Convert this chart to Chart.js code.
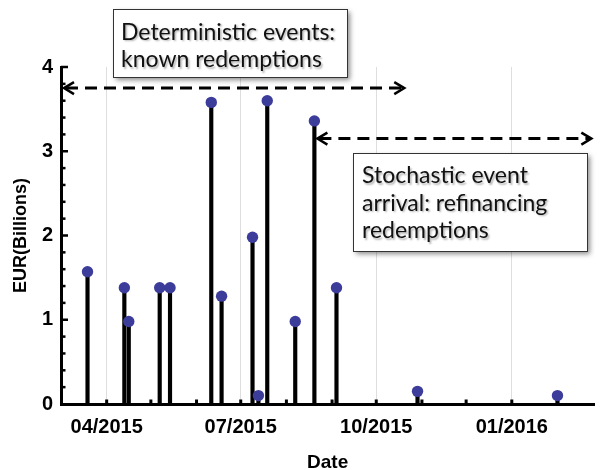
<!DOCTYPE html>
<html><head><meta charset="utf-8">
<script src="https://cdn.jsdelivr.net/npm/chart.js@4.4.1/dist/chart.umd.min.js"></script>
<style>html,body{margin:0;padding:0;background:#fff}canvas{display:block}</style>
</head><body>
<canvas id="c" width="600" height="470"></canvas>
<script>
// ---- data ----
const redemptionDates = ['2015-03-19','2015-04-13','2015-04-16','2015-05-07','2015-05-14','2015-06-11','2015-06-18','2015-07-09','2015-07-13','2015-07-19','2015-08-07','2015-08-20','2015-09-04','2015-10-29','2016-02-01'];
const redemptionAmounts = [1.57,1.38,0.98,1.38,1.38,3.58,1.28,1.98,0.10,3.60,0.98,3.36,1.38,0.15,0.10];
const monthTickDates = ['2015-03-01','2015-04-01','2015-05-01','2015-06-01','2015-07-01','2015-08-01','2015-09-01','2015-10-01','2015-11-01','2015-12-01','2016-01-01','2016-02-01'];
const labelledTickDates = ['2015-04-01','2015-07-01','2015-10-01','2016-01-01'];
const labelledTickText = ['04/2015','07/2015','10/2015','01/2016'];
const yMajorTicks = [0,1,2,3,4];
const yMinorStep = 0.2;
const xRange = ['2015-03-01','2016-02-26'];

// annotation layout (data units for arrows)
const arrows = [
  {from:'2015-03-01', to:'2015-10-20', y:3.75},
  {from:'2015-08-20', to:'2016-02-24', y:3.15}
];
const notes = [
  {x:113, y:9,   w:234, h:68, lines:['Deterministic events:','known redemptions'], tx:121, ty:39.5},
  {x:353, y:153, w:234, h:98, lines:['Stochastic event','arrival: refinancing','redemptions'], tx:362, ty:183}
];

const dayNum = s => { const [y,m,d] = s.split('-').map(Number); return Date.UTC(y,m-1,d)/86400000; };
const points = redemptionDates.map((d,i) => ({x: dayNum(d), y: redemptionAmounts[i]}));
const monthDays = monthTickDates.map(dayNum);
const labelledDays = labelledTickDates.map(dayNum);

const AXFONT = 'Liberation Sans, Arial, sans-serif';

const tickMarks = {
  id:'tickMarks',
  beforeDatasetsDraw(chart){
    const {ctx, scales:{x, y}, chartArea} = chart;
    ctx.save();
    ctx.fillStyle = '#000';
    monthDays.forEach(v => {
      const px = x.getPixelForValue(v);
      if (px < chartArea.left + 3) return;
      ctx.fillRect(px - 1.5, chartArea.bottom - 4.5, 3, 5);
    });
    const n = Math.round((yMajorTicks[yMajorTicks.length-1] - yMajorTicks[0]) / yMinorStep);
    for (let i = 1; i <= n; i++) {
      const v = yMajorTicks[0] + i * yMinorStep;
      const py = y.getPixelForValue(v);
      const major = Math.abs(v - Math.round(v)) < 1e-6;
      ctx.fillRect(chartArea.left, py - 1.25, major ? 7 : 4.5, 2.5);
    }
    ctx.restore();
  }
};

function drawArrow(ctx, x1, x2, yy){
  ctx.save();
  ctx.strokeStyle = '#000';
  ctx.lineWidth = 3;
  ctx.setLineDash([12,7]);
  ctx.beginPath(); ctx.moveTo(x1 + 2, yy); ctx.lineTo(x2 - 2, yy); ctx.stroke();
  ctx.setLineDash([]);
  ctx.lineWidth = 2.5;
  ctx.lineCap = 'butt';
  ctx.beginPath(); ctx.moveTo(x1 + 10, yy - 6); ctx.lineTo(x1, yy); ctx.lineTo(x1 + 10, yy + 6); ctx.stroke();
  ctx.beginPath(); ctx.moveTo(x2 - 10, yy - 6); ctx.lineTo(x2, yy); ctx.lineTo(x2 - 10, yy + 6); ctx.stroke();
  ctx.restore();
}

const annotations = {
  id:'annotations',
  afterDatasetsDraw(chart){
    const {ctx, scales:{x, y}} = chart;
    arrows.forEach(a => {
      drawArrow(ctx, x.getPixelForValue(dayNum(a.from)) + 3, x.getPixelForValue(dayNum(a.to)), y.getPixelForValue(a.y));
    });
    notes.forEach(n => {
      ctx.save();
      ctx.shadowColor = 'rgba(0,0,0,0.45)';
      ctx.shadowBlur = 5; ctx.shadowOffsetX = 3; ctx.shadowOffsetY = 3;
      ctx.fillStyle = '#fff';
      ctx.fillRect(n.x, n.y, n.w, n.h);
      ctx.restore();
      ctx.save();
      ctx.strokeStyle = '#333'; ctx.lineWidth = 1;
      ctx.strokeRect(n.x + 0.5, n.y + 0.5, n.w, n.h);
      ctx.font = '23px Lato, sans-serif';
      ctx.fillStyle = '#111';
      ctx.textBaseline = 'alphabetic';
      ctx.shadowColor = 'rgba(0,0,0,0.3)';
      ctx.shadowBlur = 2; ctx.shadowOffsetX = 1.5; ctx.shadowOffsetY = 1.5;
      n.lines.forEach((t, i) => ctx.fillText(t, n.tx, n.ty + i * 27.6));
      ctx.restore();
    });
  }
};

new Chart(document.getElementById('c'), {
  type: 'scatter',
  data: {
    datasets: [
      {type:'bar', data: points, backgroundColor:'#000', barThickness:3.5, grouped:false, order:1},
      {type:'scatter', data: points, pointRadius:5.7, pointHoverRadius:5.7, pointBackgroundColor:'#3c3c9b', pointBorderWidth:0, order:0}
    ]
  },
  options: {
    responsive:false, animation:false, devicePixelRatio:1,
    layout:{padding:{top:67, right:0, bottom:0, left:0}},
    plugins:{legend:{display:false}, tooltip:{enabled:false}},
    scales:{
      x:{
        type:'linear', offset:false,
        min: dayNum(xRange[0]), max: dayNum(xRange[1]),
        afterBuildTicks: s => { s.ticks = monthDays.map(v => ({value:v})); },
        afterFit: s => { s.height = 66; },
        ticks:{
          autoSkip:false, maxRotation:0, minRotation:0, padding:11, color:'#000',
          font:{family:AXFONT, size:20, weight:'bold'},
          callback: v => { const i = labelledDays.indexOf(v); return i >= 0 ? labelledTickText[i] : ''; }
        },
        grid:{
          offset:false, drawTicks:false, lineWidth:1,
          color: c => (c.tick && labelledDays.includes(c.tick.value)) ? '#dedede' : 'rgba(0,0,0,0)'
        },
        border:{display:true, color:'#000', width:3},
        title:{display:true, text:'Date', color:'#000', font:{family:AXFONT, size:19, weight:'bold'}, padding:{top:0, bottom:-4}}
      },
      y:{
        type:'linear', min:0, max:4,
        afterBuildTicks: s => { s.ticks = yMajorTicks.map(v => ({value:v})); },
        afterFit: s => { s.width = 61; },
        ticks:{padding:8, color:'#000', font:{family:AXFONT, size:20, weight:'bold'}},
        grid:{display:false, drawTicks:false},
        border:{display:true, color:'#000', width:3},
        title:{display:true, text:'EUR(Billions)', color:'#000', font:{family:AXFONT, size:18, weight:'bold'}, padding:{top:10, bottom:0}}
      }
    }
  },
  plugins:[tickMarks, annotations]
});
</script>
</body></html>
